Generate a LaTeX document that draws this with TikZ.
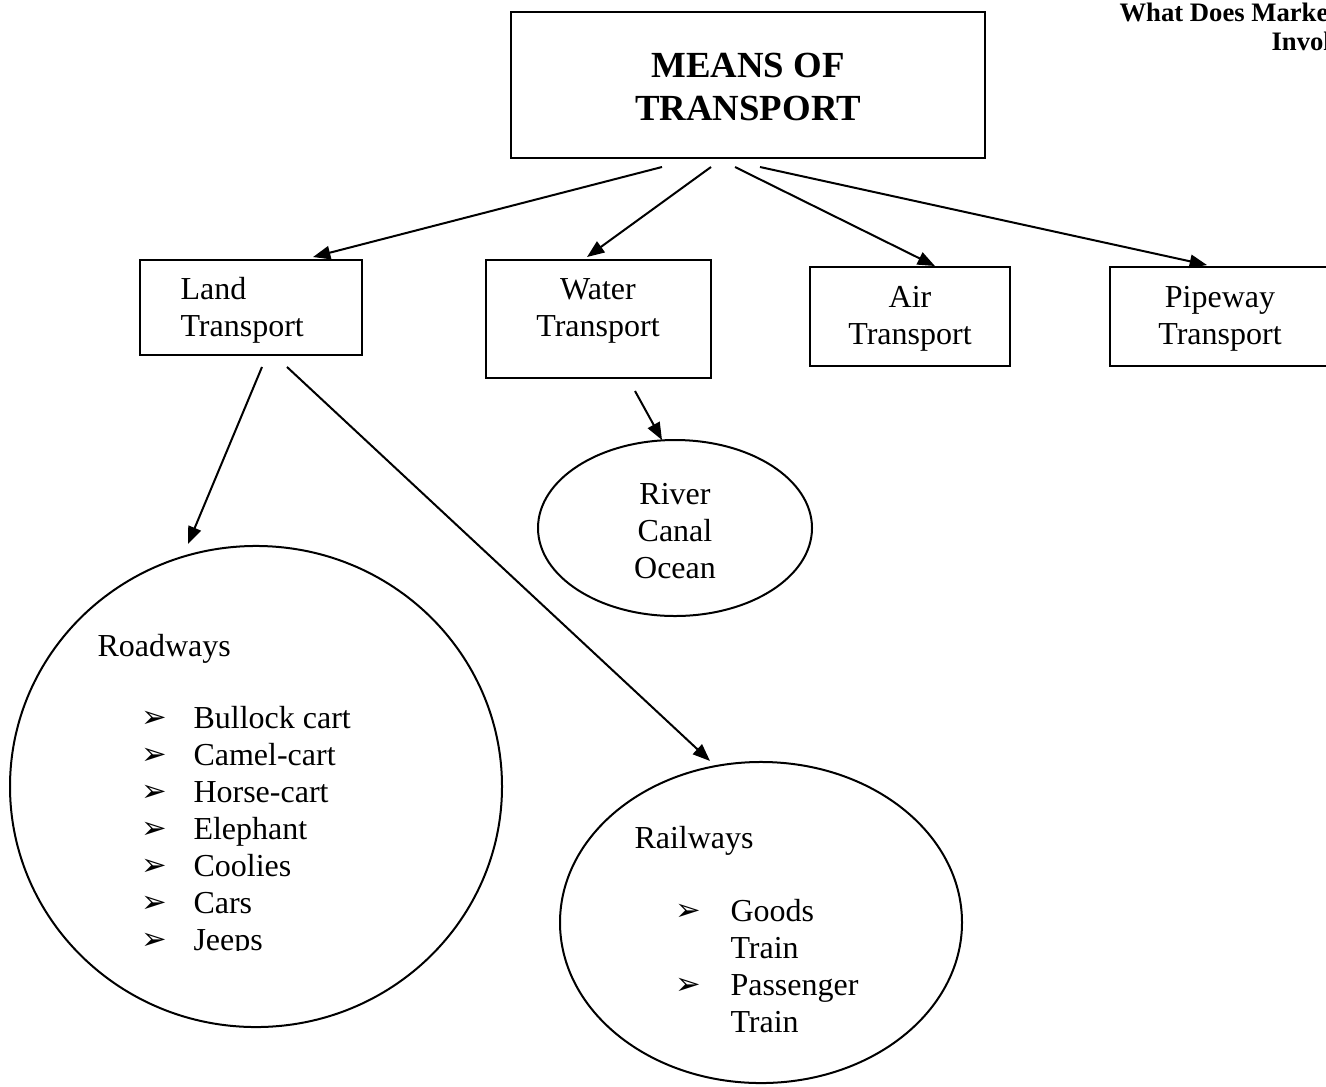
\documentclass[tikz,border=0pt]{standalone}
\usepackage{fontspec}
\setmainfont{Liberation Serif}
\newfontfamily\dingfont{DejaVu Sans}
\usetikzlibrary{arrows.meta,calc,shapes.geometric}

\tikzset{
  boxnode/.style={draw, line width=0.75pt, rectangle, inner sep=0pt},
  ovalnode/.style={draw, line width=0.75pt, ellipse, inner sep=0pt},
  body/.style={font=\fontsize{12}{13.9}\selectfont, inner sep=0pt},
  titlefont/.style={font=\bfseries\fontsize{13.8}{16.1}\selectfont},
  hdr/.style={anchor=base west, inner sep=0pt, font=\bfseries\fontsize{10}{12}\selectfont},
  item/.style={body, anchor=base west},
  bul/.style={font=\dingfont\fontsize{11.5}{13}\selectfont, inner sep=0pt, anchor=base east},
  arr/.style={line width=0.75pt, -{Triangle[length=6.5pt,width=5pt]}},
}

\begin{document}
\begin{tikzpicture}[x=0.375pt, y=-0.375pt]
\useasboundingbox (0,0) rectangle (1326,1086);
\clip (0,0) rectangle (1326,1086);

% header in the top right corner
\node[hdr] (hdrA) at (1119,21) {What Does Marke};
\node[hdr] (hdrB) at (1271,50) {Invol};

% root
\node[boxnode, minimum width=177.75pt, minimum height=54.75pt] (main) at (748,85) {};
\node[titlefont, align=center, inner sep=0pt] (maintxt) at ($(main.center)+(0,2)$) {MEANS OF\\TRANSPORT};

% second level
\node[boxnode, minimum width=83.25pt, minimum height=35.6pt] (land) at (251,307.5) {};
\node[body, align=left, anchor=west] (landtxt) at ($(land.west)+(41,3)$) {Land\\Transport};
\node[boxnode, minimum width=84.4pt, minimum height=44.25pt] (water) at (598.5,319) {};
\node[body, align=center] (watertxt) at (598,311) {Water\\Transport};
\node[boxnode, minimum width=75pt, minimum height=37.1pt] (air) at (910,316.5) {};
\node[body, align=center] (airtxt) at ($(air.center)+(0,2.5)$) {Air\\Transport};
\node[boxnode, minimum width=82.5pt, minimum height=37.1pt] (pipe) at (1220,316.5) {};
\node[body, align=center] (pipetxt) at ($(pipe.center)+(0,2.5)$) {Pipeway\\Transport};

% water ways
\node[ovalnode, minimum width=102.75pt, minimum height=66pt] (river) at (675,528) {};
\node[body, align=center] (rivertxt) at ($(river.center)+(0,3)$) {River\\Canal\\Ocean};

% land ways
\node[ovalnode, minimum width=184.5pt, minimum height=180.4pt] (road) at (256,786.5) {};
\node[ovalnode, minimum width=150.75pt, minimum height=120.4pt] (rail) at (761,922.5) {};

% roadways list (the text frame cuts the last line)
\begin{scope}
\clip (60,600) rectangle (480,950);
\node[item] (roadtitle) at (97,656) {Roadways};
\foreach \t [count=\i from 0] in {Bullock cart,Camel-cart,Horse-cart,Elephant,Coolies,Cars,Jeeps}{
  \node[bul] (rb\i) at (168,727+37*\i) {➢};
  \node[item] (ri\i) at (193,728+37*\i) {\t};
}
\end{scope}

% railways list
\node[item] (railtitle) at (634,848) {Railways};
\node[bul] (qb1) at (702,920) {➢};
\node[item] (q1) at (730,921) {Goods};
\node[item] (q2) at (730,958) {Train};
\node[bul] (qb3) at (702,994) {➢};
\node[item] (q3) at (730,995) {Passenger};
\node[item] (q4) at (730,1032) {Train};

% connectors
\draw[arr] ($(main.south)+(-86,8)$) -- ($(land.north)+(62,-2)$);
\draw[arr] ($(main.south)+(-37,8)$) -- ($(water.north)+(-11.5,-2)$);
\draw[arr] ($(main.south)+(-13,8)$) -- ($(air.north)+(25,0)$);
\draw[arr] ($(main.south)+(12,8)$) -- ($(pipe.north)+(-13,-1)$);
\draw[arr] ($(land.south)+(11,11)$) -- ($(road.north)+(-68,-1)$);
\draw[arr] ($(land.south)+(36,11)$) -- ($(rail.north)+(-51,0)$);
\draw[arr] ($(water.south)+(36.5,12)$) -- ($(river.north)+(-13,1)$);
\end{tikzpicture}
\end{document}
